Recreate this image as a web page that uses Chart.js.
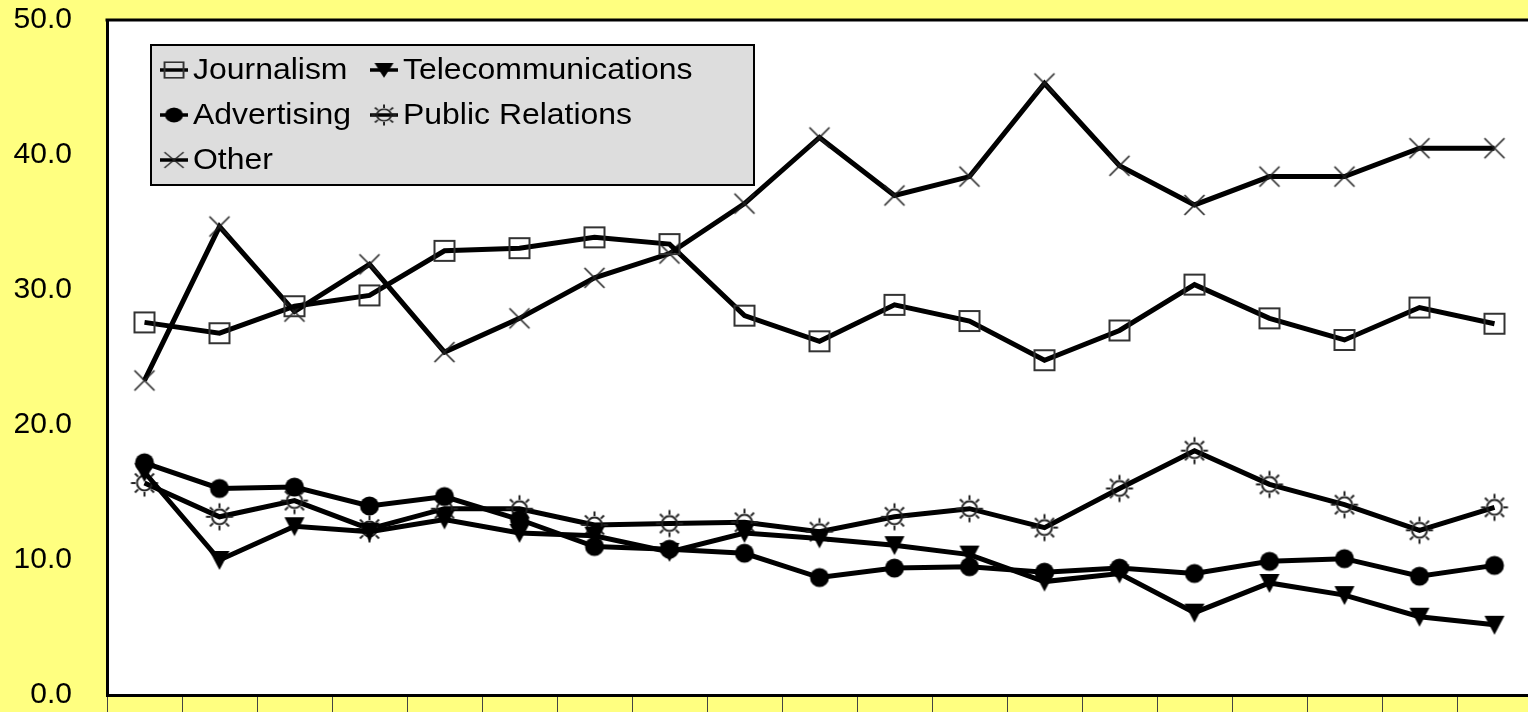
<!DOCTYPE html>
<html>
<head>
<meta charset="utf-8">
<script src="https://cdn.jsdelivr.net/npm/chart.js@4/dist/chart.umd.min.js"></script>
<style>
  html, body { margin: 0; padding: 0; background: #ffff80; overflow: hidden; }
  #wrap { position: absolute; left: 0; top: 0; width: 1540px; height: 712px; }
</style>
</head>
<body>
<div id="wrap"><canvas id="chart"></canvas></div>
<script>
// Data (19 periods, tick labels are cut off in the original)
const categories = ['1', '2', '3', '4', '5', '6', '7', '8', '9', '10',
                    '11', '12', '13', '14', '15', '16', '17', '18', '19'];
const journalism = [27.6, 26.8, 28.8, 29.6, 32.9, 33.1, 33.9, 33.4, 28.1, 26.2,
                    28.9, 27.7, 24.8, 27.0, 30.4, 27.9, 26.3, 28.7, 27.5];
const telecommunications = [16.5, 10.0, 12.5, 12.1, 13.0, 12.0, 11.8, 10.6, 12.0, 11.6,
                            11.1, 10.4, 8.4, 9.0, 6.1, 8.3, 7.4, 5.8, 5.2];
const advertising = [17.2, 15.3, 15.4, 14.0, 14.7, 13.0, 11.0, 10.8, 10.5, 8.7,
                     9.4, 9.5, 9.1, 9.4, 9.0, 9.9, 10.1, 8.8, 9.6];
const publicRelations = [15.7, 13.2, 14.4, 12.3, 13.8, 13.8, 12.6, 12.7, 12.8, 12.1,
                         13.2, 13.8, 12.4, 15.3, 18.1, 15.6, 14.1, 12.2, 13.9];
const other = [23.3, 34.7, 28.4, 31.9, 25.4, 27.9, 30.9, 32.7, 36.4, 41.3,
               37.0, 38.4, 45.3, 39.2, 36.3, 38.4, 38.4, 40.5, 40.5];
const yTicks = [0, 10, 20, 30, 40, 50];

const FONT = '"Liberation Sans", Arial, sans-serif';

// Build marker images used as point styles
function makeMarker(type) {
    const c = document.createElement('canvas');
    c.width = c.height = 32;
    const g = c.getContext('2d');
    g.translate(16, 16);
    if (type === 'square') {
        g.strokeStyle = '#333';
        g.lineWidth = 2;
        g.strokeRect(-10, -10, 20, 20);
    } else if (type === 'triangle') {
        g.fillStyle = '#000';
        g.beginPath();
        g.moveTo(-10, -9);
        g.lineTo(10, -9);
        g.lineTo(0, 10);
        g.closePath();
        g.fill();
    } else if (type === 'circle') {
        g.fillStyle = '#000';
        g.beginPath();
        g.arc(0, 0, 9.5, 0, Math.PI * 2);
        g.fill();
    } else if (type === 'sun') {
        g.strokeStyle = '#222';
        g.lineWidth = 2;
        g.beginPath();
        g.arc(0, 0, 7.5, 0, Math.PI * 2);
        g.stroke();
        for (let k = 0; k < 8; k++) {
            const a = k * Math.PI / 4;
            g.beginPath();
            g.moveTo(Math.cos(a) * 9, Math.sin(a) * 9);
            g.lineTo(Math.cos(a) * 13.5, Math.sin(a) * 13.5);
            g.stroke();
        }
    } else if (type === 'cross') {
        g.strokeStyle = '#222';
        g.lineWidth = 1.6;
        g.beginPath();
        g.moveTo(-10, -10); g.lineTo(10, 10);
        g.moveTo(10, -10); g.lineTo(-10, 10);
        g.stroke();
    }
    return c;
}

const markers = ['square', 'triangle', 'circle', 'sun', 'cross'].map(makeMarker);

function series(label, data, i) {
    return {
        label,
        data,
        borderColor: '#000',
        backgroundColor: '#000',
        borderWidth: 5,
        tension: 0,
        pointStyle: markers[i],
        pointRadius: 10,
        pointHoverRadius: 10,
        fill: false
    };
}

// White plot area, top border and the boxed 2-column legend
const framePlugin = {
    id: 'frame',
    beforeDraw(chart) {
        const { ctx, chartArea: a } = chart;
        ctx.save();
        ctx.fillStyle = '#fff';
        ctx.fillRect(a.left, a.top, a.right - a.left, a.bottom - a.top);
        ctx.restore();
    },
    afterDraw(chart) {
        const { ctx, chartArea: a } = chart;
        ctx.save();
        ctx.strokeStyle = '#000';
        ctx.lineWidth = 3;
        ctx.beginPath();
        ctx.moveTo(a.left - 1.5, a.top);
        ctx.lineTo(a.right, a.top);
        ctx.stroke();

        // legend box
        ctx.fillStyle = '#dddddd';
        ctx.fillRect(151, 45, 603, 140);
        ctx.lineWidth = 2;
        ctx.strokeRect(151, 45, 603, 140);

        const colX = [160, 370];
        const rowY = [70, 115, 160];
        ctx.font = '30px ' + FONT;
        ctx.textBaseline = 'middle';
        ctx.fillStyle = '#000';
        chart.data.datasets.forEach((ds, i) => {
            const x = colX[i % 2];
            const y = rowY[Math.floor(i / 2)];
            ctx.lineWidth = 3.5;
            ctx.beginPath();
            ctx.moveTo(x, y);
            ctx.lineTo(x + 28, y);
            ctx.stroke();
            const img = markers[i];
            const w = img.width * 0.95, h = img.height * 0.78;
            ctx.drawImage(img, x + 14 - w / 2, y - h / 2, w, h);
            ctx.save();
            ctx.translate(x + 33, y + 1);
            ctx.scale(1.065, 1);
            ctx.fillText(ds.label, 0, 0);
            ctx.restore();
        });
        ctx.restore();
    }
};

new Chart(document.getElementById('chart'), {
    type: 'line',
    data: {
        labels: categories,
        datasets: [
            series('Journalism', journalism, 0),
            series('Telecommunications', telecommunications, 1),
            series('Advertising', advertising, 2),
            series('Public Relations', publicRelations, 3),
            series('Other', other, 4)
        ]
    },
    options: {
        responsive: true,
        maintainAspectRatio: false,
        animation: false,
        devicePixelRatio: 1,
        layout: { autoPadding: false, padding: { top: 20, right: 8, bottom: 0, left: 0 } },
        plugins: {
            legend: { display: false },
            tooltip: { enabled: false }
        },
        scales: {
            x: {
                offset: true,
                afterFit: s => { s.height = 17; s.paddingLeft = 0; s.paddingRight = 0; },
                grid: { offset: true, drawOnChartArea: false, drawTicks: true, tickLength: 17, color: '#444', lineWidth: 1 },
                border: { display: true, color: '#000', width: 3 },
                ticks: { display: false }
            },
            y: {
                min: 0,
                max: 50,
                afterFit: s => { s.width = 107; s.paddingTop = 0; s.paddingBottom = 0; },
                afterBuildTicks: s => { s.ticks = yTicks.map(v => ({ value: v })); },
                grid: { drawOnChartArea: false, drawTicks: false },
                border: { display: true, color: '#000', width: 3 },
                ticks: {
                    padding: 35,
                    color: '#000',
                    font: { family: FONT, size: 30 },
                    callback: v => v.toFixed(1)
                }
            }
        }
    },
    plugins: [framePlugin]
});
</script>
</body>
</html>
